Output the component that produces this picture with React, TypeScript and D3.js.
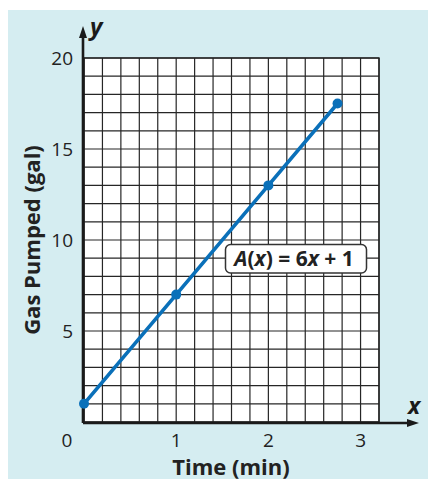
import React from "react";
import * as d3 from "d3";

// Gas pumped over time, A(x) = 6x + 1
const timeMin = [0, 1, 2, 2.75];
const gasGal = [1, 7, 13, 17.5];
const xTickValues = [1, 2, 3];
const yTickValues = [5, 10, 15, 20];
const equationText = ["A", "(", "x", ") = 6", "x", " + 1"];

const W = 436;
const H = 487;
const FONT = "'Open Sans', 'Noto Sans', sans-serif";

export default function App() {
  const x = d3.scaleLinear().domain([0, 3.2]).range([84, 379]);
  const y = d3.scaleLinear().domain([0, 20]).range([422, 58]);

  // grid: 5 columns per minute, 1 row per gallon
  const gridX = d3.range(0, 17).map((i) => i / 5);
  const gridY = d3.range(0, 21);

  const line = d3
    .line<number>()
    .x((d, i) => x(timeMin[i]))
    .y((d) => y(d));

  const [x0, x1] = x.range();
  const [y0, y1] = y.range();

  return (
    <div style={{ margin: -8 }}>
      <svg width={W} height={H} style={{ display: "block" }}>
        <rect x={0} y={0} width={W} height={H} fill="#ffffff" />
        <rect x={7} y={10} width={W - 7} height={H - 10} fill="#d5edf1" />
        <rect x={x0} y={y1} width={x1 - x0} height={y0 - y1} fill="#ffffff" />
        {gridX.map((g, i) => (
          <line key={"gx" + i} x1={x(g)} x2={x(g)} y1={y1} y2={y0} stroke="#262626" strokeWidth={1.2} />
        ))}
        {gridY.map((g) => (
          <line key={"gy" + g} x1={x0} x2={x1} y1={y(g)} y2={y(g)} stroke="#262626" strokeWidth={1.2} />
        ))}
        <rect x={x0} y={y1} width={x1 - x0} height={y0 - y1} fill="none" stroke="#222" strokeWidth={1.4} />

        {/* axes with arrowheads */}
        <line x1={x0 - 1} x2={x0 - 1} y1={y0 + 1} y2={32} stroke="#1a1a1a" strokeWidth={2.6} />
        <path d={`M${x0 - 1},26 L${x0 - 5},38 L${x0 + 3},38 Z`} fill="#1a1a1a" />
        <line x1={x0 - 1} x2={412} y1={y0 + 1} y2={y0 + 1} stroke="#1a1a1a" strokeWidth={2.6} />
        <path d={`M419,${y0 + 1} L407,${y0 - 3} L407,${y0 + 5} Z`} fill="#1a1a1a" />
        <text x={90} y={35} fontFamily={FONT} fontSize={24} fontWeight={700} fontStyle="italic" fill="#1a1a1a">
          y
        </text>
        <text x={408} y={414} fontFamily={FONT} fontSize={23} fontWeight={700} fontStyle="italic" fill="#1a1a1a">
          x
        </text>

        {/* tick labels */}
        <text x={67} y={447} textAnchor="middle" fontFamily={FONT} fontSize={19} fill="#222">
          0
        </text>
        {xTickValues.map((t) => (
          <text key={"xt" + t} x={x(t)} y={447} textAnchor="middle" fontFamily={FONT} fontSize={19} fill="#222">
            {t}
          </text>
        ))}
        {yTickValues.map((t) => (
          <text key={"yt" + t} x={73} y={y(t) + 7} textAnchor="end" fontFamily={FONT} fontSize={19} fill="#222">
            {t}
          </text>
        ))}

        {/* axis titles */}
        <text x={231} y={475} textAnchor="middle" fontFamily={FONT} fontSize={22} fontWeight={700} fill="#222">
          Time (min)
        </text>
        <text
          transform={`translate(40,${y(10)}) rotate(-90)`}
          textAnchor="middle"
          fontFamily={FONT}
          fontSize={22}
          fontWeight={700}
          fill="#222"
        >
          Gas Pumped (gal)
        </text>

        {/* function line */}
        <path d={line(gasGal) || ""} fill="none" stroke="#0a70b9" strokeWidth={3.6} />
        {gasGal.map((g, i) => (
          <circle key={"p" + i} cx={x(timeMin[i])} cy={y(g)} r={5} fill="#0a70b9" />
        ))}

        {/* equation label */}
        <rect x={225.5} y={244.5} width={141} height={28.5} rx={5} fill="#ffffff" stroke="#333" strokeWidth={1.5} />
        <text x={294} y={266} textAnchor="middle" fontFamily={FONT} fontSize={21} fontWeight={700} fill="#222">
          {equationText.map((s, i) => (
            <tspan key={i} fontStyle={s === "A" || s === "x" ? "italic" : "normal"}>
              {s}
            </tspan>
          ))}
        </text>
      </svg>
    </div>
  );
}
